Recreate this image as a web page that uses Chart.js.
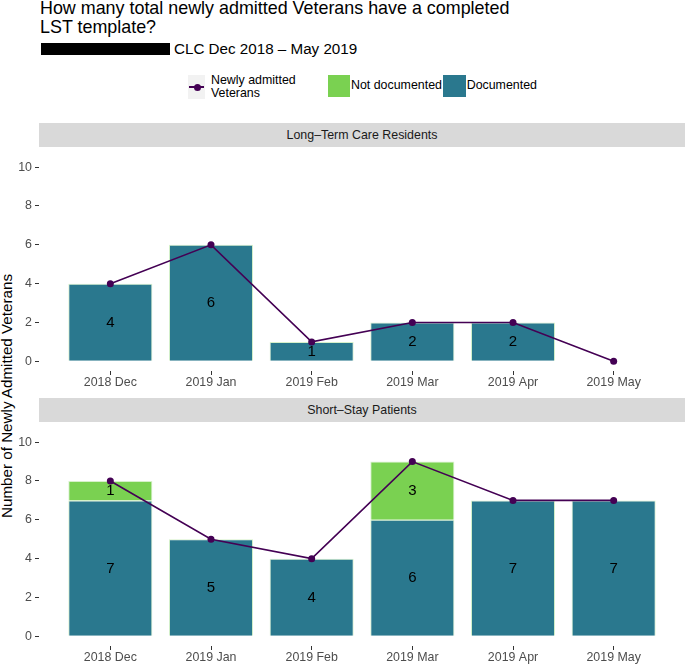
<!DOCTYPE html>
<html>
<head>
<meta charset="utf-8">
<script src="https://cdn.jsdelivr.net/npm/chart.js@4.4.1/dist/chart.umd.min.js"></script>
<style>
  body { margin: 0; width: 685px; height: 665px; overflow: hidden; background: #fff; position: relative;
         font-family: "Liberation Sans", Arial, sans-serif; color: #000; }
  .abs { position: absolute; white-space: nowrap; }
  .strip { background: #d9d9d9; color: #1a1a1a; font-size: 12.4px; text-align: center; }
  .legtext { font-size: 12.4px; color: #000; }
</style>
</head>
<body>

<div class="abs" style="left:40px; top:-1px; font-size:17.9px; line-height:19px;">How many total newly admitted Veterans have a completed<br>LST template?</div>
<div class="abs" style="left:40.7px; top:42.7px; width:129.3px; height:12.3px; background:#000;"></div>
<div class="abs" style="left:174px; top:41px; font-size:15.2px; line-height:16px;">CLC Dec 2018 – May 2019</div>

<!-- legend -->
<div class="abs" style="left:188px; top:75px; width:17px; height:24px; background:#f2f2f2;"></div>
<div class="abs" style="left:189px; top:86.2px; width:15px; height:1.6px; background:#440154;"></div>
<div class="abs" style="left:193.5px; top:83.5px; width:7px; height:7px; border-radius:50%; background:#440154;"></div>
<div class="abs legtext" id="leg0" style="left:211px; top:74.1px; line-height:12.6px;"></div>
<div class="abs" style="left:327.7px; top:74.7px; width:22.3px; height:22.3px; background:#7AD151;"></div>
<div class="abs legtext" id="leg1" style="left:351px; top:78.4px; line-height:14px;"></div>
<div class="abs" style="left:443px; top:74.7px; width:22.7px; height:22.3px; background:#2A788E;"></div>
<div class="abs legtext" id="leg2" style="left:466.7px; top:78.4px; line-height:14px;"></div>

<!-- y axis title -->
<div class="abs" style="left:-142.8px; top:386.5px; width:300px; height:18px; line-height:18px; font-size:15.2px; text-align:center; transform:rotate(-90deg);">Number of Newly Admitted Veterans</div>

<!-- facet strips -->
<div class="abs strip" id="strip0" style="left:39px; top:122.7px; width:646px; height:24px; line-height:24px;"></div>
<div class="abs strip" id="strip1" style="left:39px; top:397.7px; width:646px; height:24.6px; line-height:24.6px;"></div>

<canvas id="chartTop" class="abs" width="685" height="248" style="left:0; top:147px;"></canvas>
<canvas id="chartBottom" class="abs" width="685" height="248" style="left:0; top:422px;"></canvas>

<script>
// data
const months = ['2018 Dec', '2019 Jan', '2019 Feb', '2019 Mar', '2019 Apr', '2019 May'];
const ltcDocumented    = [4, 6, 1, 2, 2, 0];
const ltcNotDocumented = [0, 0, 0, 0, 0, 0];
const ltcAdmitted      = [4, 6, 1, 2, 2, 0];
const ssDocumented     = [7, 5, 4, 6, 7, 7];
const ssNotDocumented  = [1, 0, 0, 3, 0, 0];
const ssAdmitted       = [8, 5, 4, 9, 7, 7];
const yTicks = [0, 2, 4, 6, 8, 10];
const panelTitles = ['Long–Term Care Residents', 'Short–Stay Patients'];
const seriesNames = ['Newly admitted Veterans', 'Not documented', 'Documented'];

const FONT = '"Liberation Sans", Arial, sans-serif';

document.getElementById('leg0').innerHTML = 'Newly admitted<br>Veterans';
document.getElementById('leg1').textContent = seriesNames[1];
document.getElementById('leg2').textContent = seriesNames[2];
document.getElementById('strip0').textContent = panelTitles[0];
document.getElementById('strip1').textContent = panelTitles[1];

// write the count in the middle of every non-empty bar segment
const barLabels = {
    id: 'barLabels',
    afterDatasetsDraw(chart) {
        const ctx = chart.ctx;
        ctx.save();
        ctx.fillStyle = '#000';
        ctx.font = '15px ' + FONT;
        ctx.textAlign = 'center';
        ctx.textBaseline = 'middle';
        chart.data.datasets.forEach((ds, i) => {
            if (ds.type !== 'bar') return;
            const meta = chart.getDatasetMeta(i);
            meta.data.forEach((bar, j) => {
                const v = ds.data[j];
                if (!v) return;
                ctx.fillText(String(v), bar.x, (bar.y + bar.base) / 2 + 0.5);
            });
        });
        ctx.restore();
    }
};

function makePanel(id, documented, notDocumented, admitted) {
    const ctx = document.getElementById(id).getContext('2d');
    return new Chart(ctx, {
        data: {
            labels: months,
            datasets: [
                {
                    type: 'line',
                    label: seriesNames[0],
                    data: admitted,
                    stack: 'line',
                    order: 0,
                    borderColor: '#440154',
                    backgroundColor: '#440154',
                    borderWidth: 1.6,
                    pointRadius: 3.5,
                    pointBorderWidth: 0,
                    pointBackgroundColor: '#440154',
                    tension: 0
                },
                {
                    type: 'bar',
                    label: seriesNames[2],
                    data: documented,
                    stack: 'bars',
                    order: 1,
                    backgroundColor: '#2A788E',
                    borderColor: 'rgba(122, 209, 81, 0.3)',
                    borderWidth: 1,
                    barPercentage: 0.835,
                    categoryPercentage: 1
                },
                {
                    type: 'bar',
                    label: seriesNames[1],
                    data: notDocumented,
                    stack: 'bars',
                    order: 1,
                    backgroundColor: '#7AD151',
                    borderColor: 'rgba(122, 209, 81, 0.3)',
                    borderWidth: 1,
                    barPercentage: 0.835,
                    categoryPercentage: 1
                }
            ]
        },
        options: {
            responsive: false,
            animation: false,
            layout: { padding: { top: 1, right: 21, left: 0, bottom: 0 } },
            plugins: {
                legend: { display: false },
                tooltip: { enabled: false }
            },
            scales: {
                x: {
                    stacked: true,
                    offset: true,
                    border: { display: false },
                    grid: { offset: false, drawOnChartArea: false, tickLength: 4, tickColor: '#333', tickWidth: 1 },
                    ticks: { color: '#4d4d4d', font: { size: 12.4, family: FONT }, padding: 0, maxRotation: 0, autoSkip: false },
                    afterFit: (s) => { s.height = 24; }
                },
                y: {
                    stacked: true,
                    min: -0.5,
                    max: 10.5,
                    border: { display: false },
                    // long tick with a dash pattern so only the short outer mark shows, like ggplot
                    grid: { drawOnChartArea: false, tickLength: 25, tickBorderDash: [4, 40], tickColor: '#333', tickWidth: 1 },
                    ticks: { color: '#4d4d4d', font: { size: 12.4, family: FONT }, padding: 3 },
                    afterBuildTicks: (s) => { s.ticks = yTicks.map(v => ({ value: v })); },
                    afterFit: (s) => { s.width = 60; }
                }
            }
        },
        plugins: [barLabels]
    });
}

makePanel('chartTop', ltcDocumented, ltcNotDocumented, ltcAdmitted);
makePanel('chartBottom', ssDocumented, ssNotDocumented, ssAdmitted);
</script>
</body>
</html>
